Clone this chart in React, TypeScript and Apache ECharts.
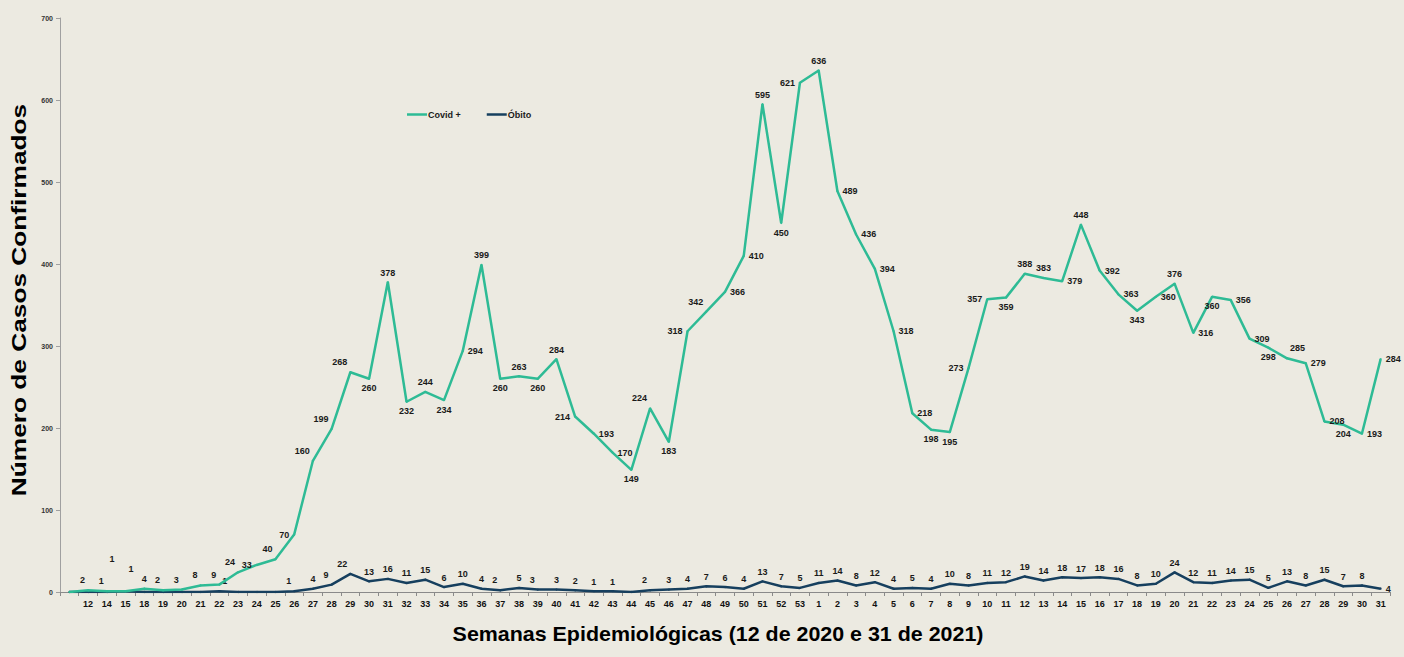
import React, { useEffect, useRef } from "react";
import * as echarts from "echarts";

const weeks = [
  "", "12", "14", "15", "18", "19", "20", "21", "22", "23", "24", "25", "26", "27", "28", "29", "30",
  "31", "32", "33", "34", "35", "36", "37", "38", "39", "40", "41", "42", "43", "44", "45", "46", "47",
  "48", "49", "50", "51", "52", "53", "1", "2", "3", "4", "5", "6", "7", "8", "9", "10", "11", "12",
  "13", "14", "15", "16", "17", "18", "19", "20", "21", "22", "23", "24", "25", "26", "27", "28", "29",
  "30", "31",
];

const covid = [
  0, 2, 1, 1, 4, 2, 3, 8, 9, 24, 33, 40, 70, 160, 199, 268, 260, 378, 232, 244, 234, 294, 399, 260,
  263, 260, 284, 214, 193, 170, 149, 224, 183, 318, 342, 366, 410, 595, 450, 621, 636, 489, 436, 394,
  318, 218, 198, 195, 273, 357, 359, 388, 383, 379, 448, 392, 363, 343, 360, 376, 316, 360, 356, 309,
  298, 285, 279, 208, 204, 193, 284,
];

const obito = [
  0, 0, 0, 1, 0, 0, 0, 0, 1, 0, 0, 0, 1, 4, 9, 22, 13, 16, 11, 15, 6, 10, 4, 2, 5, 3, 3, 2, 1, 1, 0,
  2, 3, 4, 7, 6, 4, 13, 7, 5, 11, 14, 8, 12, 4, 5, 4, 10, 8, 11, 12, 19, 14, 18, 17, 18, 16, 8, 10,
  24, 12, 11, 14, 15, 5, 13, 8, 15, 7, 8, 4,
];

const yTicks = [0, 100, 200, 300, 400, 500, 600, 700];

// label placement codes (style only)
const covidPlace = [
  "-", "TL", "TL", "TLF", "T", "TL", "TL", "TL", "TL", "TL", "L", "TL", "L", "TL", "TL", "TL", "B", "T",
  "B", "T", "B", "R", "T", "B", "T", "B", "T", "L", "R", "R", "B", "TL", "B", "L", "TL", "R", "R", "T",
  "B", "L", "T", "R", "R", "R", "R", "R", "B", "B", "L", "L", "B", "T", "T", "R", "T", "R", "R", "B",
  "R", "T", "R", "B", "R", "R", "B", "TR", "R", "R", "B", "R", "R",
];

const obitoPlace: Record<number, string> = {
  3: "TRF", 8: "TR", 12: "TL", 14: "TL", 15: "TL", 23: "TL", 25: "TL", 31: "TL", 70: "R",
};

const FONT = "'Liberation Sans', Arial, sans-serif";

function placement(code: string) {
  switch (code) {
    case "T":
      return { position: "top", distance: 4 };
    case "B":
      return { position: "bottom", distance: 4 };
    case "L":
      return { position: "left", distance: 4 };
    case "R":
      return { position: "right", distance: 4 };
    case "TL":
      return { position: "left", distance: 2, offset: [0, -10] };
    case "TLF":
      return { position: "left", distance: 2, offset: [-8, -32] };
    case "TR":
      return { position: "right", distance: 2, offset: [0, -10] };
    case "TRF":
      return { position: "right", distance: 2, offset: [0, -22] };
    case "BL":
      return { position: "left", distance: 2, offset: [0, 10] };
    case "BR":
      return { position: "right", distance: 2, offset: [0, 10] };
    default:
      return { show: false };
  }
}

export default function App() {
  const ref = useRef<HTMLDivElement>(null);
  useEffect(() => {
    document.body.style.margin = "0";
    const chart = echarts.init(ref.current!, null, { renderer: "svg" });
    const labelBase = {
      show: true,
      fontSize: 9,
      fontWeight: "bold",
      color: "#1a1a1a",
      fontFamily: FONT,
    };
    chart.setOption({
      animation: false,
      backgroundColor: "#ECEAE1",
      textStyle: { fontFamily: FONT },
      grid: { left: 60, right: 14, top: 18, bottom: 65, containLabel: false },
      legend: {
        left: 402,
        top: 105,
        icon: "rect",
        itemWidth: 20,
        itemHeight: 2.5,
        itemGap: 26,
        textStyle: { fontSize: 9, fontWeight: "bold", color: "#1a1a1a", fontFamily: FONT, padding: [0, 0, 0, -4] },
        data: ["Covid +", "Óbito"],
      },
      xAxis: {
        type: "category",
        data: weeks,
        boundaryGap: true,
        axisLine: { lineStyle: { color: "#8a8a8a", width: 1 } },
        axisTick: { show: true, interval: 0, length: 4, lineStyle: { color: "#8a8a8a" } },
        axisLabel: {
          interval: 0,
          fontSize: 9,
          fontWeight: "bold",
          color: "#111",
          margin: 7,
          fontFamily: FONT,
        },
      },
      yAxis: {
        type: "value",
        min: yTicks[0],
        max: yTicks[yTicks.length - 1],
        interval: 100,
        splitLine: { show: false },
        axisLine: { show: true, lineStyle: { color: "#a0a0a0", width: 1 } },
        axisTick: { show: true, length: 4, lineStyle: { color: "#a0a0a0" } },
        axisLabel: { fontSize: 7, color: "#333", margin: 7, fontFamily: FONT, fontWeight: "bold" },
      },
      graphic: [
        {
          type: "text",
          x: 18,
          y: 300,
          rotation: Math.PI / 2,
          scaleX: 1.25,
          style: {
            text: "Número de Casos Confirmados",
            fontSize: 21,
            fontWeight: "bold",
            fill: "#000",
            fontFamily: FONT,
            align: "center",
            verticalAlign: "middle",
          },
        },
        {
          type: "text",
          x: 718,
          y: 634,
          scaleX: 1.02,
          style: {
            text: "Semanas Epidemiológicas (12 de 2020 e 31 de 2021)",
            fontSize: 21,
            fontWeight: "bold",
            fill: "#000",
            fontFamily: FONT,
            align: "center",
            verticalAlign: "middle",
          },
        },
      ],
      series: [
        {
          name: "Covid +",
          type: "line",
          symbol: "circle",
          symbolSize: 2,
          showSymbol: true,
          lineStyle: { color: "#2EBB95", width: 2.5 },
          itemStyle: { color: "#2EBB95" },
          z: 3,
          data: covid.map((v, i) => ({
            value: v,
            label: { ...labelBase, ...placement(v === 0 ? "-" : covidPlace[i]) },
          })),
        },
        {
          name: "Óbito",
          type: "line",
          symbol: "circle",
          symbolSize: 2,
          showSymbol: true,
          lineStyle: { color: "#163F5E", width: 2.5 },
          itemStyle: { color: "#163F5E" },
          z: 2,
          data: obito.map((v, i) => ({
            value: v,
            label: { ...labelBase, ...placement(v === 0 ? "-" : obitoPlace[i] || "T") },
          })),
        },
      ],
    });
    return () => chart.dispose();
  }, []);
  return <div ref={ref} style={{ width: 1404, height: 657 }} />;
}
